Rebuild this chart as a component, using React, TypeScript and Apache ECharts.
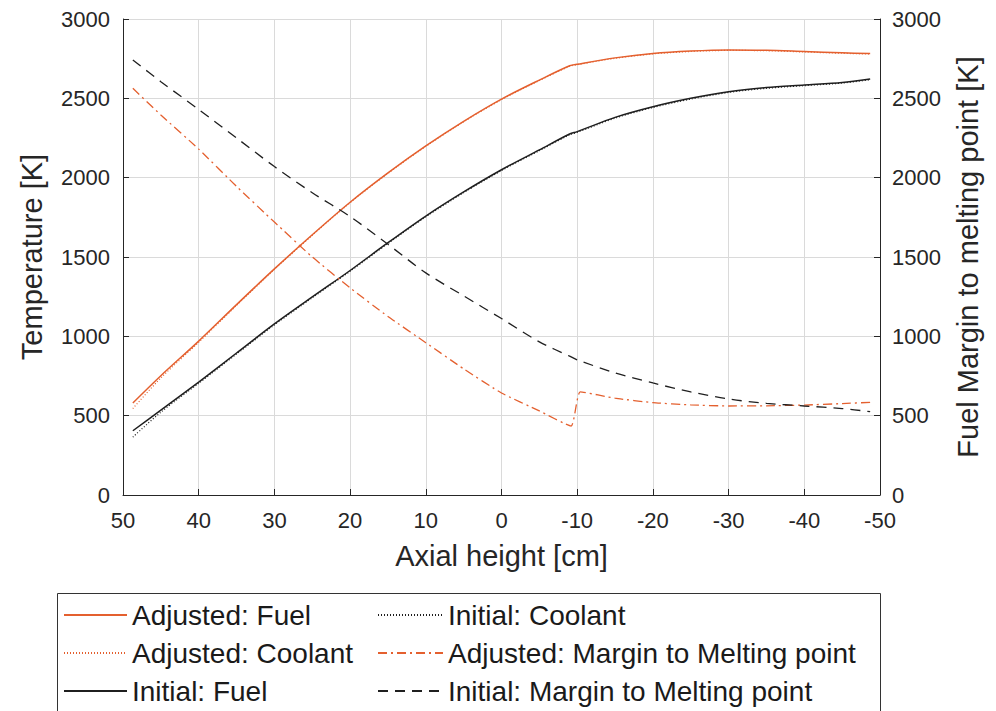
import React, { useEffect, useRef } from "react";
import * as echarts from "echarts";

// Axial positions [cm]
const xPos = [48.7, 45, 40, 35, 30, 25, 20, 15, 10, 5, 0, -5, -9, -10, -15, -20, -25, -30, -35, -40, -45, -48.7];

// Temperatures [K]
const adjustedFuel = [580, 752, 970, 1200, 1425, 1640, 1845, 2030, 2200, 2355, 2495, 2615, 2705, 2715, 2755, 2783, 2798, 2805, 2803, 2795, 2787, 2782];
const adjustedCoolant = [545, 738, 962, 1195, 1421, 1636, 1842, 2027, 2197, 2352, 2492, 2612, 2702, 2712, 2752, 2780, 2795, 2802, 2800, 2792, 2784, 2779];
const initialFuel = [405, 535, 712, 895, 1078, 1248, 1415, 1590, 1758, 1910, 2050, 2175, 2275, 2290, 2380, 2447, 2500, 2542, 2568, 2584, 2600, 2622];
const initialCoolant = [365, 522, 704, 888, 1072, 1243, 1410, 1585, 1753, 1905, 2045, 2170, 2270, 2285, 2375, 2442, 2495, 2537, 2563, 2580, 2596, 2617];

// Margin to melting point [K]
const initialMargin = [2742, 2605, 2430, 2250, 2070, 1905, 1755, 1580, 1400, 1255, 1112, 965, 875, 852, 770, 706, 650, 605, 578, 561, 545, 525];
const xPosAdjMargin = [48.7, 45, 40, 35, 30, 25, 20, 15, 10, 5, 0, -5, -9.2, -10.4, -15, -20, -25, -30, -35, -40, -45, -48.7];
const adjustedMargin = [2563, 2395, 2180, 1945, 1720, 1500, 1305, 1125, 960, 795, 643, 530, 435, 650, 610, 582, 568, 561, 562, 567, 576, 584];

const ORANGE = "#e4602f";
const DARK = "#1f1f1f";
const FONT = "'Liberation Sans', Arial, Helvetica, sans-serif";

const pairs = (xs: number[], ys: number[]) => xs.map((x, i) => [x, ys[i]]);

export default function App() {
  const ref = useRef<HTMLDivElement>(null);
  useEffect(() => {
    if (!ref.current) return;
    const chart = echarts.init(ref.current, undefined, { renderer: "svg" });
    const axisCommon = {
      type: "value" as const,
      min: 0,
      max: 3000,
      interval: 500,
      axisLine: { show: true, onZero: false, lineStyle: { color: "#262626", width: 1 } },
      axisTick: { show: true, inside: true, length: 6, lineStyle: { color: "#262626" } },
      axisLabel: {
        fontSize: 22,
        color: "#262626",
        fontFamily: FONT,
        margin: 13,
        formatter: (v: number) => String(v),
      },
      nameLocation: "middle" as const,
      nameTextStyle: { fontSize: 29, color: "#262626", fontFamily: FONT },
    };
    const line = (name: string, data: number[][], color: string, type: any, width: number, yAxisIndex = 0, smooth: any = 0.3) => ({
      name,
      type: "line",
      data,
      yAxisIndex,
      symbol: "none",
      showSymbol: false,
      smooth,
      lineStyle: { color, type, width },
      itemStyle: { color },
      z: 3,
    });
    const legendCommon = {
      orient: "vertical",
      top: 601,
      padding: 0,
      itemHeight: 14,
      itemGap: 10,
      selectedMode: false,
      itemStyle: { opacity: 0 },
      textStyle: { fontSize: 28, lineHeight: 28, color: "#1a1a1a", fontFamily: FONT },
    };
    chart.setOption({
      animation: false,
      backgroundColor: "#ffffff",
      grid: { left: 123, right: 116, top: 19, bottom: 216, containLabel: false },
      xAxis: {
        type: "value",
        min: -50,
        max: 50,
        interval: 10,
        inverse: true,
        name: "Axial height [cm]",
        nameLocation: "middle",
        nameGap: 46,
        nameTextStyle: { fontSize: 29, color: "#262626", fontFamily: FONT },
        axisLine: { show: true, onZero: false, lineStyle: { color: "#262626", width: 1 } },
        axisTick: { show: true, inside: true, length: 6, lineStyle: { color: "#262626" } },
        axisLabel: { fontSize: 22, color: "#262626", fontFamily: FONT, margin: 14 },
        splitLine: { show: true, lineStyle: { color: "#dadada", width: 1 } },
      },
      yAxis: [
        {
          ...axisCommon,
          position: "left",
          name: "Temperature [K]",
          nameGap: 77,
          splitLine: { show: true, lineStyle: { color: "#dadada", width: 1 } },
        },
        {
          ...axisCommon,
          position: "right",
          name: "Fuel Margin to melting point [K]",
          nameGap: 73,
          axisLabel: { ...axisCommon.axisLabel, margin: 12 },
          splitLine: { show: false },
        },
      ],
      legend: [
        {
          ...legendCommon,
          left: 63,
          itemWidth: 63,
          data: ["Adjusted: Fuel", "Adjusted: Coolant", "Initial: Fuel"],
        },
        {
          ...legendCommon,
          left: 377,
          itemWidth: 65,
          data: ["Initial: Coolant", "Adjusted: Margin to Melting point", "Initial: Margin to Melting point"],
        },
      ],
      graphic: [
        {
          type: "rect",
          left: 57,
          top: 593,
          z: -1,
          shape: { width: 823, height: 140 },
          style: { fill: "#ffffff", stroke: "#333333", lineWidth: 1 },
        },
      ],
      series: [
        line("Adjusted: Fuel", pairs(xPos, adjustedFuel), ORANGE, "solid", 1.5),
        line("Adjusted: Coolant", pairs(xPos, adjustedCoolant), ORANGE, [1, 2], 1.2),
        line("Initial: Fuel", pairs(xPos, initialFuel), DARK, "solid", 1.5),
        line("Initial: Coolant", pairs(xPos, initialCoolant), DARK, [1, 2], 1.2),
        line("Adjusted: Margin to Melting point", pairs(xPosAdjMargin, adjustedMargin), ORANGE, [9, 4, 2, 4], 1.3, 1, 0.15),
        line("Initial: Margin to Melting point", pairs(xPos, initialMargin), DARK, [10, 7], 1.3, 1),
      ],
    });
    return () => chart.dispose();
  }, []);
  return (
    <div
      ref={ref}
      style={{ position: "fixed", left: 0, top: 0, width: 996, height: 711, background: "#fff" }}
    />
  );
}
